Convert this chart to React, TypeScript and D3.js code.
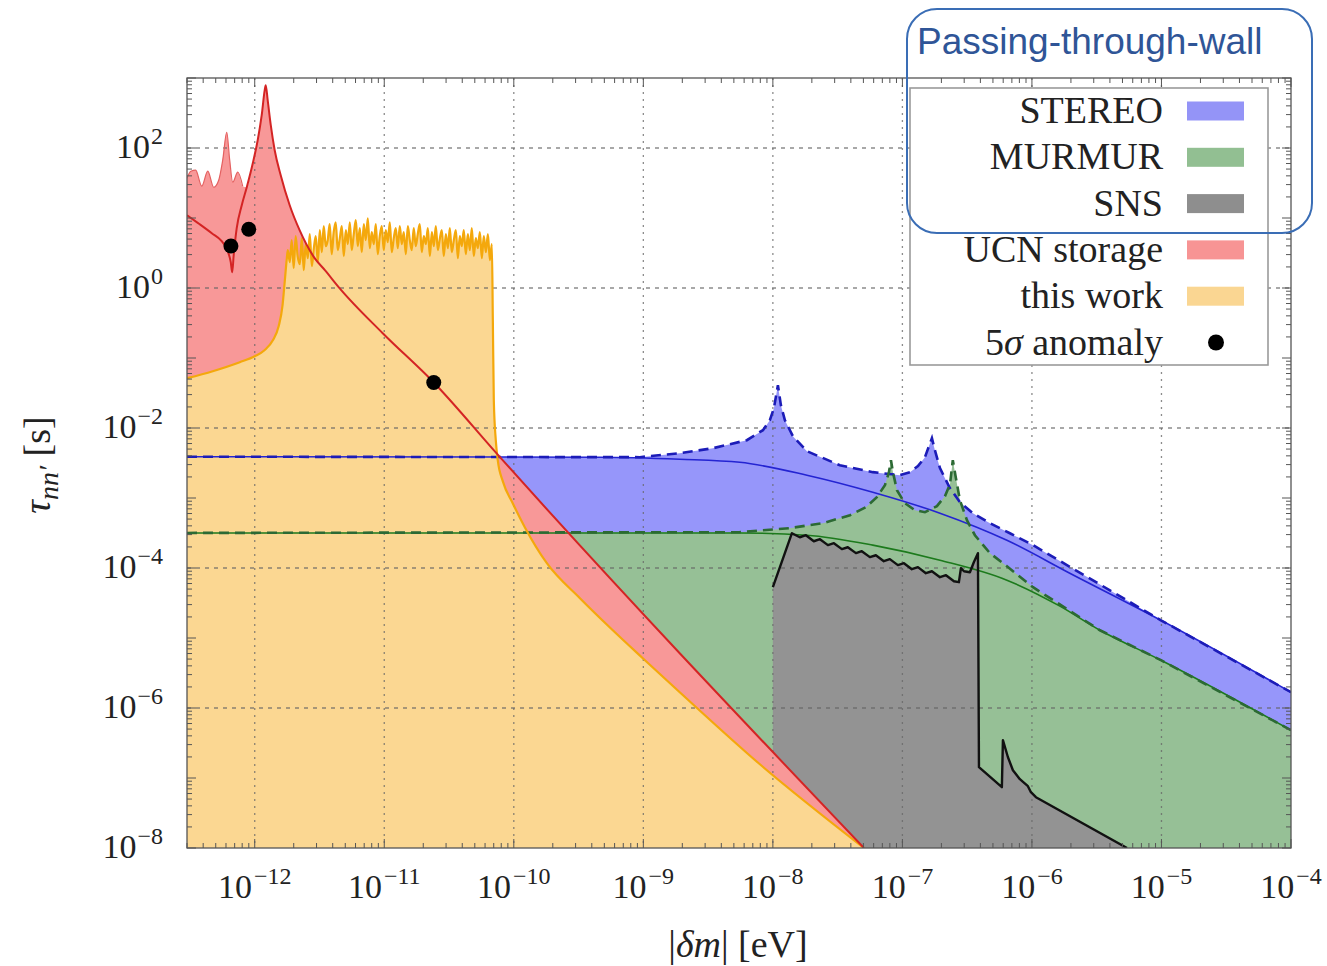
import React from "react";
import * as d3 from "d3";

type Pt = [number, number];

// |δm| in eV, τ_nn' in s

// STEREO: exclusion edge (dashed) and central curve (solid)
const STEREO_EDGE: Pt[] = [
  [3e-13, 3.89e-3], [9.4e-10, 3.83e-3], [1.91e-9, 4.37e-3], [3.44e-9, 5.14e-3],
  [6.3e-9, 6.7e-3], [8.38e-9, 9.3e-3], [9.48e-9, 1.29e-2], [1.019e-8, 1.92e-2],
  [1.094e-8, 4.1e-2], [1.153e-8, 2.12e-2], [1.239e-8, 1.29e-2], [1.427e-8, 7.64e-3],
  [1.832e-8, 4.66e-3], [3.29e-8, 2.94e-3], [5.91e-8, 2.34e-3], [9.57e-8, 2.12e-3],
  [1.143e-7, 2.34e-3], [1.318e-7, 2.85e-3], [1.493e-7, 3.83e-3], [1.603e-7, 5.5e-3],
  [1.69e-7, 7.15e-3], [1.782e-7, 4.82e-3], [1.95e-7, 2.67e-3], [2.33e-7, 1.38e-3],
  [2.78e-7, 8.71e-4], [3.5e-7, 6.07e-4], [4.74e-7, 4.37e-4], [6.76e-7, 3.14e-4],
  [1.019e-6, 2.12e-4], [9.91e-6, 1.79e-5], [1e-4, 1.68e-6],
];
const STEREO_LINE: Pt[] = [
  [3e-13, 3.89e-3], [4.61e-10, 3.83e-3], [1.91e-9, 3.58e-3], [5.56e-9, 3.24e-3],
  [1.832e-8, 2.12e-3], [5.91e-8, 1.21e-3], [1.95e-7, 6.07e-4], [6.41e-7, 2.49e-4],
  [1.96e-6, 8.43e-5], [9.91e-6, 1.79e-5], [1e-4, 1.68e-6],
];

// MURMUR: exclusion edge (dashed) and central curve (solid)
const MURMUR_EDGE: Pt[] = [
  [3e-13, 3.17e-4], [5.56e-9, 3.25e-4], [1.352e-8, 3.71e-4], [2.43e-8, 4.37e-4],
  [3.94e-8, 5.68e-4], [5.23e-8, 7.39e-4], [6.35e-8, 1.03e-3], [7.33e-8, 1.52e-3],
  [7.87e-8, 2.34e-3], [8.16e-8, 3.47e-3], [8.45e-8, 2.34e-3], [9.08e-8, 1.29e-3],
  [1.045e-7, 8.43e-4], [1.25e-7, 6.7e-4], [1.493e-7, 6.27e-4], [1.847e-7, 7.64e-4],
  [2.13e-7, 1.06e-3], [2.33e-7, 1.57e-3], [2.45e-7, 3.47e-3], [2.59e-7, 1.92e-3],
  [2.78e-7, 9.3e-4], [3.15e-7, 4.82e-4], [3.63e-7, 2.94e-4], [4.74e-7, 1.63e-4],
  [6.41e-7, 1.06e-4], [1.019e-6, 5.32e-5], [3.35e-6, 1.29e-5], [9.91e-6, 4.82e-6],
  [1e-4, 4.82e-7],
];
const MURMUR_LINE: Pt[] = [
  [3e-13, 3.17e-4], [5.56e-9, 3.17e-4], [1.832e-8, 2.94e-4], [5.91e-8, 2.12e-4],
  [1.95e-7, 1.29e-4], [6.41e-7, 6.7e-5], [1.644e-6, 2.85e-5], [3.35e-6, 1.29e-5],
  [9.91e-6, 4.82e-6], [1e-4, 4.82e-7],
];

// SNS exclusion edge
const SNS_EDGE: Pt[] = [
  [1.0e-8, 5.32e-5], [1.403e-8, 3.14e-4], [1.614e-8, 2.75e-4], [1.8e-8, 2.94e-4],
  [2.07e-8, 2.41e-4], [2.31e-8, 2.58e-4], [2.66e-8, 2.12e-4], [2.96e-8, 2.26e-4],
  [3.41e-8, 1.86e-4], [3.79e-8, 1.98e-4], [4.38e-8, 1.63e-4], [4.86e-8, 1.74e-4],
  [5.61e-8, 1.43e-4], [6.24e-8, 1.52e-4], [7.19e-8, 1.25e-4], [8.0e-8, 1.34e-4],
  [9.23e-8, 1.1e-4], [1.028e-7, 1.17e-4], [1.183e-7, 9.62e-5], [1.318e-7, 1.03e-4],
  [1.518e-7, 8.43e-5], [1.69e-7, 8.99e-5], [1.95e-7, 7.39e-5], [2.17e-7, 7.89e-5],
  [2.5e-7, 6.47e-5], [2.73e-7, 6.27e-5], [2.83e-7, 9.93e-5], [2.99e-7, 8.99e-5],
  [3.32e-7, 8.71e-5], [3.56e-7, 1.21e-4], [3.83e-7, 1.63e-4], [3.9e-7, 1.43e-7],
  [5.86e-7, 7.39e-8], [5.97e-7, 3.47e-7], [6.53e-7, 1.98e-7], [7.13e-7, 1.29e-7],
  [8.07e-7, 9.62e-8], [9.31e-7, 7.64e-8], [9.82e-7, 6.27e-8], [1.074e-6, 5.32e-8],
  [5.42e-6, 1e-8],
];

// UCN storage: main curve and the oscillating upper envelope at small |δm|
const UCN_LINE: Pt[] = [
  [3e-13, 10.96], [3.76e-13, 8.15], [4.66e-13, 6.07], [5.56e-13, 4.67],
  [6.19e-13, 3.36], [6.53e-13, 2.34], [6.7e-13, 1.68], [6.88e-13, 2.94],
  [7.26e-13, 7.15], [7.94e-13, 15.2], [8.68e-13, 27.5], [9.66e-13, 60.7],
  [1.054e-12, 129], [1.132e-12, 294], [1.194e-12, 670], [1.216e-12, 789],
  [1.259e-12, 482], [1.33e-12, 212], [1.426e-12, 93], [1.587e-12, 40.8],
  [1.862e-12, 15.2], [2.22e-12, 6.7], [2.9e-12, 2.67], [3.48e-12, 1.8],
  [4.53e-12, 0.99], [9.73e-12, 0.226], [2.41e-11, 0.0447], [7.4e-11, 4.3e-3],
  [5.05e-8, 1e-8],
];
const UCN_OSC: Pt[] = [
  [3e-13, 37.0], [3.21e-13, 46.6], [3.5e-13, 48.2], [3.9e-13, 28.5],
  [4.34e-13, 46.6], [4.82e-13, 27.5], [5.27e-13, 34.7], [5.66e-13, 67.0],
  [6.08e-13, 168], [6.41e-13, 67.0], [6.76e-13, 32.5], [7.4e-13, 45.1],
  [8.07e-13, 28.5],
];

// This work: rising edge, fluctuating plateau, falling tail
const WORK_RISE: Pt[] = [
  [3e-13, 0.0514], [4.74e-13, 0.0648], [7.66e-13, 0.0871], [1.0e-12, 0.106],
  [1.19e-12, 0.129], [1.38e-12, 0.179], [1.53e-12, 0.284], [1.64e-12, 0.568],
  [1.7e-12, 1.17], [1.77e-12, 2.67],
];
const WORK_PLATEAU: Pt[] = [
  [1.8e-12, 3.47], [1.865e-12, 2.34], [1.93e-12, 4.82], [2.0e-12, 1.92],
  [2.07e-12, 5.5], [2.145e-12, 2.85], [2.23e-12, 2.19], [2.31e-12, 5.15],
  [2.39e-12, 1.8], [2.475e-12, 4.23], [2.57e-12, 2.67], [2.66e-12, 5.88],
  [2.76e-12, 2.05], [2.86e-12, 3.71], [2.96e-12, 5.5], [3.07e-12, 2.34],
  [3.18e-12, 6.7], [3.295e-12, 3.25], [3.41e-12, 7.64], [3.535e-12, 3.96],
  [3.66e-12, 4.82], [3.79e-12, 8.15], [3.93e-12, 3.04], [4.07e-12, 6.27],
  [4.22e-12, 8.7], [4.375e-12, 3.47], [4.54e-12, 5.15], [4.7e-12, 7.64],
  [4.87e-12, 2.85], [5.05e-12, 6.7], [5.23e-12, 4.23], [5.42e-12, 8.7],
  [5.61e-12, 3.47], [5.815e-12, 5.88], [6.03e-12, 9.3], [6.245e-12, 3.96],
  [6.47e-12, 7.15], [6.705e-12, 3.25], [6.95e-12, 8.15], [7.2e-12, 4.82],
  [7.46e-12, 9.9], [7.73e-12, 3.71], [8.01e-12, 6.27], [8.3e-12, 4.23],
  [8.6e-12, 8.15], [8.91e-12, 3.04], [9.23e-12, 5.5], [9.565e-12, 7.64],
  [9.91e-12, 3.47], [1.027e-11, 6.7], [1.064e-11, 4.52], [1.103e-11, 8.7],
  [1.143e-11, 3.25], [1.184e-11, 5.15], [1.227e-11, 7.15], [1.272e-11, 3.71],
  [1.318e-11, 7.64], [1.366e-11, 4.23], [1.415e-11, 6.27], [1.467e-11, 3.04],
  [1.52e-11, 7.64], [1.574e-11, 4.82], [1.63e-11, 3.47], [1.689e-11, 7.15],
  [1.75e-11, 3.96], [1.814e-11, 5.88], [1.88e-11, 8.15], [1.949e-11, 3.25],
  [2.02e-11, 5.5], [2.094e-11, 4.23], [2.17e-11, 7.15], [2.249e-11, 2.85],
  [2.33e-11, 6.27], [2.414e-11, 3.96], [2.5e-11, 7.64], [2.593e-11, 3.47],
  [2.69e-11, 5.15], [2.783e-11, 6.7], [2.88e-11, 2.85], [2.988e-11, 5.88],
  [3.1e-11, 3.71], [3.208e-11, 7.15], [3.32e-11, 3.25], [3.443e-11, 4.82],
  [3.57e-11, 6.7], [3.699e-11, 2.67], [3.83e-11, 5.5], [3.968e-11, 3.96],
  [4.11e-11, 6.7], [4.262e-11, 3.04], [4.42e-11, 5.88], [4.577e-11, 3.47],
  [4.74e-11, 7.15], [4.913e-11, 2.85], [5.09e-11, 5.15], [5.277e-11, 3.71],
  [5.47e-11, 6.27], [5.666e-11, 2.67], [5.87e-11, 5.5], [6.086e-11, 3.25],
  [6.31e-11, 5.88], [6.536e-11, 2.5], [6.77e-11, 4.23],
];
const WORK_TAIL: Pt[] = [
  [6.89e-11, 0.347], [7.01e-11, 0.025], [7.26e-11, 6.7e-3], [7.52e-11, 3.47e-3],
  [8.22e-11, 1.74e-3], [9.81e-11, 8.43e-4], [1.216e-10, 3.83e-4], [1.8e-10, 1.17e-4],
  [3.24e-10, 3.7e-5], [5.81e-10, 1.29e-5], [9.9e-10, 5.14e-6], [1.91e-9, 1.68e-6],
  [7.94e-9, 1.57e-7], [5.05e-8, 1e-8],
];

// 5σ anomaly points
const ANOMALY: Pt[] = [
  [6.55e-13, 3.99], [8.99e-13, 6.92], [2.41e-11, 0.0447],
];

const X_TICK_EXP = [-12, -11, -10, -9, -8, -7, -6, -5, -4];
const Y_TICK_EXP = [-8, -6, -4, -2, 0, 2];

const LEGEND_LABELS = ["STEREO", "MURMUR", "SNS", "UCN storage", "this work", "5σ anomaly"];
const LEGEND_COLORS = ["#9494f7", "#92bf92", "#8e8e8e", "#f79494", "#fad692", "#000"];

const FILL = {
  stereo: "#9696fa",
  murmur: "#96c096",
  sns: "#939393",
  ucn: "#f89898",
  work: "#fbd792",
};

const SERIF = "'Liberation Serif', 'DejaVu Serif', serif";

export default function App() {
  const W = 1327;
  const H = 966;
  const left = 187, right = 1291, top = 78, bottom = 848;

  const x = d3.scaleLog().domain([3e-13, 1e-4]).range([left, right]);
  const y = d3.scaleLog().domain([1e-8, 1e3]).range([bottom, top]);

  const line = d3.line<Pt>().x((d) => x(d[0])).y((d) => y(d[1]));
  const smooth = d3
    .line<Pt>()
    .x((d) => x(d[0]))
    .y((d) => y(d[1]))
    .curve(d3.curveMonotoneX);
  const area = d3
    .area<Pt>()
    .x((d) => x(d[0]))
    .y0(bottom)
    .y1((d) => y(d[1]));
  const smoothArea = d3
    .area<Pt>()
    .x((d) => x(d[0]))
    .y0(bottom)
    .y1((d) => y(d[1]))
    .curve(d3.curveMonotoneX);

  const lastOsc = UCN_OSC[UCN_OSC.length - 1][0];
  const ucnOutline: Pt[] = [...UCN_OSC, ...UCN_LINE.filter((d) => d[0] > lastOsc)];
  const workOutline: Pt[] = [...WORK_RISE, ...WORK_PLATEAU, ...WORK_TAIL];

  // log ticks on all four sides
  const [xd0, xd1] = x.domain();
  const [yd0, yd1] = y.domain();
  const xTicks: { v: number; major: boolean }[] = [];
  for (let e = -13; e <= -4; e++) {
    for (let m = 1; m <= 9; m++) {
      const v = m * Math.pow(10, e);
      if (v >= xd0 * 0.999 && v <= xd1 * 1.001) xTicks.push({ v, major: m === 1 });
    }
  }
  const yTicks: { v: number; major: boolean }[] = [];
  for (let e = -8; e <= 3; e++) {
    for (let m = 1; m <= 9; m++) {
      const v = m * Math.pow(10, e);
      if (v >= yd0 * 0.999 && v <= yd1 * 1.001) yTicks.push({ v, major: m === 1 });
    }
  }

  const legX = 910, legY = 88, legW = 358, legH = 277;
  const rowH = 46.3;
  const row0 = 111;

  return (
    <svg
      width={W}
      height={H}
      style={{ position: "absolute", left: 0, top: 0, background: "#fff" }}
      fontFamily={SERIF}
    >
      <defs>
        <clipPath id="plot-clip">
          <rect x={left} y={top} width={right - left} height={bottom - top} />
        </clipPath>
      </defs>

      <g clipPath="url(#plot-clip)">
        {/* filled exclusion regions */}
        <path d={area(STEREO_EDGE) ?? ""} fill={FILL.stereo} />
        <path d={area(MURMUR_EDGE) ?? ""} fill={FILL.murmur} />
        <path d={area(SNS_EDGE) ?? ""} fill={FILL.sns} />
        <path d={smoothArea(ucnOutline) ?? ""} fill={FILL.ucn} />
        <path d={smoothArea(workOutline) ?? ""} fill={FILL.work} />

        {/* grid */}
        {X_TICK_EXP.filter((e) => e < -4).map((e) => (
          <line
            key={"gx" + e}
            x1={x(Math.pow(10, e))}
            x2={x(Math.pow(10, e))}
            y1={top}
            y2={bottom}
            stroke="#666"
            strokeWidth={1.3}
            strokeDasharray="2,5"
            opacity={0.75}
          />
        ))}
        {Y_TICK_EXP.filter((e) => e > -8).map((e) => (
          <line
            key={"gy" + e}
            x1={left}
            x2={right}
            y1={y(Math.pow(10, e))}
            y2={y(Math.pow(10, e))}
            stroke="#666"
            strokeWidth={1.3}
            strokeDasharray="4,5"
            opacity={0.75}
          />
        ))}

        {/* curves */}
        <path d={smooth(STEREO_LINE) ?? ""} fill="none" stroke="#2424d2" strokeWidth={1.6} />
        <path
          d={line(STEREO_EDGE) ?? ""}
          fill="none"
          stroke="#1c1cb8"
          strokeWidth={2.6}
          strokeDasharray="10,6"
        />
        <path d={smooth(MURMUR_LINE) ?? ""} fill="none" stroke="#1c7a1c" strokeWidth={1.6} />
        <path
          d={line(MURMUR_EDGE) ?? ""}
          fill="none"
          stroke="#2c6a34"
          strokeWidth={2.6}
          strokeDasharray="10,6"
        />
        <path d={line(SNS_EDGE) ?? ""} fill="none" stroke="#111" strokeWidth={2.4} strokeLinejoin="round" />
        <path
          d={smooth(workOutline) ?? ""}
          fill="none"
          stroke="#f4a80c"
          strokeWidth={2.2}
          strokeLinejoin="round"
        />
        <path d={smooth(UCN_OSC) ?? ""} fill="none" stroke="#e46060" strokeWidth={1.2} />
        <path d={smooth(UCN_LINE) ?? ""} fill="none" stroke="#d42424" strokeWidth={2} />

        {ANOMALY.map((d, i) => (
          <circle key={"a" + i} cx={x(d[0])} cy={y(d[1])} r={7.5} fill="#000" />
        ))}
      </g>

      {/* frame and ticks */}
      <rect
        x={left}
        y={top}
        width={right - left}
        height={bottom - top}
        fill="none"
        stroke="#555"
        strokeWidth={1.3}
      />
      {xTicks.map((t, i) => {
        const len = t.major ? 9 : 5;
        const px = x(t.v);
        return (
          <g key={"xt" + i} stroke="#555" strokeWidth={1}>
            <line x1={px} x2={px} y1={bottom} y2={bottom - len} />
            <line x1={px} x2={px} y1={top} y2={top + len} />
          </g>
        );
      })}
      {yTicks.map((t, i) => {
        const len = t.major ? 9 : 5;
        const py = y(t.v);
        return (
          <g key={"yt" + i} stroke="#555" strokeWidth={1}>
            <line x1={left} x2={left + len} y1={py} y2={py} />
            <line x1={right} x2={right - len} y1={py} y2={py} />
          </g>
        );
      })}

      {/* tick labels */}
      {X_TICK_EXP.map((e) => (
        <text
          key={"xl" + e}
          x={x(Math.pow(10, e))}
          y={898}
          textAnchor="middle"
          fontSize={34}
          fill="#222"
        >
          <tspan>10</tspan>
          <tspan dx={2} dy={-14} fontSize={24}>
            {"\u2212" + Math.abs(e)}
          </tspan>
        </text>
      ))}
      {Y_TICK_EXP.map((e) => (
        <text
          key={"yl" + e}
          x={163}
          y={y(Math.pow(10, e)) + 10}
          textAnchor="end"
          fontSize={34}
          fill="#222"
        >
          <tspan>10</tspan>
          <tspan dx={1} dy={-14} fontSize={24}>
            {e < 0 ? "\u2212" + Math.abs(e) : String(e)}
          </tspan>
        </text>
      ))}

      {/* axis titles */}
      <text x={738} y={957} textAnchor="middle" fontSize={38} fill="#222">
        <tspan>|</tspan>
        <tspan fontStyle="italic">δm</tspan>
        <tspan>| [eV]</tspan>
      </text>
      <text
        transform="translate(50,465) rotate(-90)"
        textAnchor="middle"
        fontSize={38}
        fill="#222"
      >
        <tspan fontStyle="italic">τ</tspan>
        <tspan fontStyle="italic" fontSize={28} dy={8}>
          nn′
        </tspan>
        <tspan dy={-8}> [s]</tspan>
      </text>

      {/* legend */}
      <rect x={legX} y={legY} width={legW} height={legH} fill="#fff" stroke="#9a9a9a" strokeWidth={1.6} />
      {LEGEND_LABELS.map((lab, i) => {
        const cy = row0 + i * rowH;
        const isDot = i === LEGEND_LABELS.length - 1;
        return (
          <g key={"lg" + i}>
            <text x={1163} y={cy + 12} textAnchor="end" fontSize={38} fill="#222">
              {isDot ? (
                <>
                  <tspan>5</tspan>
                  <tspan fontStyle="italic">σ</tspan>
                  <tspan> anomaly</tspan>
                </>
              ) : (
                lab
              )}
            </text>
            {isDot ? (
              <circle cx={1216} cy={cy} r={8} fill={LEGEND_COLORS[i]} />
            ) : (
              <rect x={1187} y={cy - 9.5} width={57} height={19} fill={LEGEND_COLORS[i]} />
            )}
          </g>
        );
      })}

      {/* callout box */}
      <rect
        x={907}
        y={9}
        width={405}
        height={224}
        rx={30}
        ry={30}
        fill="none"
        stroke="#3a6db5"
        strokeWidth={2}
      />
      <text
        x={917}
        y={54}
        fontFamily="'Liberation Sans', Arial, sans-serif"
        fontSize={37}
        fill="#2f5597"
      >
        Passing-through-wall
      </text>
    </svg>
  );
}
